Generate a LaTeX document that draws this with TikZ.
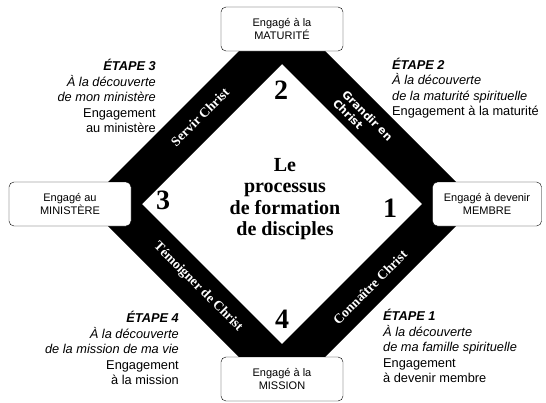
\documentclass[tikz,border=0pt]{standalone}
\usepackage{fontspec}
\setmainfont{Liberation Serif}
\setsansfont{Liberation Sans}
\newfontfamily\grandirfont{DejaVu Sans}
\tikzstyle{band} = [fill=black, even odd rule]
\tikzstyle{engage} = [rectangle, rounded corners=5pt, minimum width=122pt, minimum height=44pt, text centered, align=center, draw=black, fill=white, font=\sffamily\fontsize{11}{12.5}\selectfont]
\tikzstyle{etape} = [inner sep=0pt, font=\sffamily\fontsize{12.8}{15.5}\selectfont]
\tikzstyle{bandlabel} = [inner sep=0pt, text=white, font=\bfseries\fontsize{13.5}{14}\selectfont]
\tikzstyle{stagenum} = [inner sep=0pt, font=\bfseries\fontsize{28}{28}\selectfont]
\tikzstyle{titre} = [inner sep=0pt, align=center, font=\bfseries\fontsize{20}{21.5}\selectfont]

\begin{document}
\begin{tikzpicture}[x=1pt, y=-1pt, node distance=175pt]
\useasboundingbox (0,0) rectangle (546,402);

% Band
\fill [band] (86,204) -- (282,8) -- (478,204) -- (282,400) -- cycle
  (142,204) -- (282,64) -- (422,204) -- (282,344) -- cycle;

% Nodes
\coordinate (hub) at (282,204);
\node (maturite) [engage, above of=hub] {Engagé à la\\MATURITÉ};
\node (mission) [engage, below of=hub] {Engagé à la\\MISSION};
\node (ministere) [engage, left of=hub, xshift=-37pt] {Engagé au\\MINISTÈRE};
\node (membre) [engage, right of=hub, xshift=30pt, minimum width=109pt] {Engagé à devenir\\MEMBRE};

\node (titre) [titre] at (285,199) {Le\\processus\\de formation\\de disciples};

\node (num2) [stagenum] at (281,90) {2};
\node (num3) [stagenum] at (163,200) {3};
\node (num1) [stagenum] at (390,208) {1};
\node (num4) [stagenum] at (282,319) {4};

\node (servir) [bandlabel, rotate=45] at (200,117) {Servir Christ};
\node (grandir) [bandlabel, rotate=-45, align=left, font=\grandirfont\bfseries\fontsize{11}{13}\selectfont] at (363,120) {Grandir en\\Christ};
\node (temoigner) [bandlabel, rotate=-45] at (198,287) {Témoigner de Christ};
\node (connaitre) [bandlabel, rotate=45] at (370,287) {Connaître Christ};

\node (etape3) [etape, align=right, anchor=east] at (156,96) {\textbf{\textit{ÉTAPE 3}}\\\textit{À la découverte}\\\textit{de mon ministère}\\Engagement\\au ministère};
\node (etape2) [etape, align=left, anchor=west] at (392,88) {\textbf{\textit{ÉTAPE 2}}\\\textit{À la découverte}\\\textit{de la maturité spirituelle}\\Engagement à la maturité};
\node (etape4) [etape, align=right, anchor=east] at (179,348) {\textbf{\textit{ÉTAPE 4}}\\\textit{À la découverte}\\\textit{de la mission de ma vie}\\Engagement\\à la mission};
\node (etape1) [etape, align=left, anchor=west] at (383,346) {\textbf{\textit{ÉTAPE 1}}\\\textit{À la découverte}\\\textit{de ma famille spirituelle}\\Engagement\\à devenir membre};

\end{tikzpicture}
\end{document}
